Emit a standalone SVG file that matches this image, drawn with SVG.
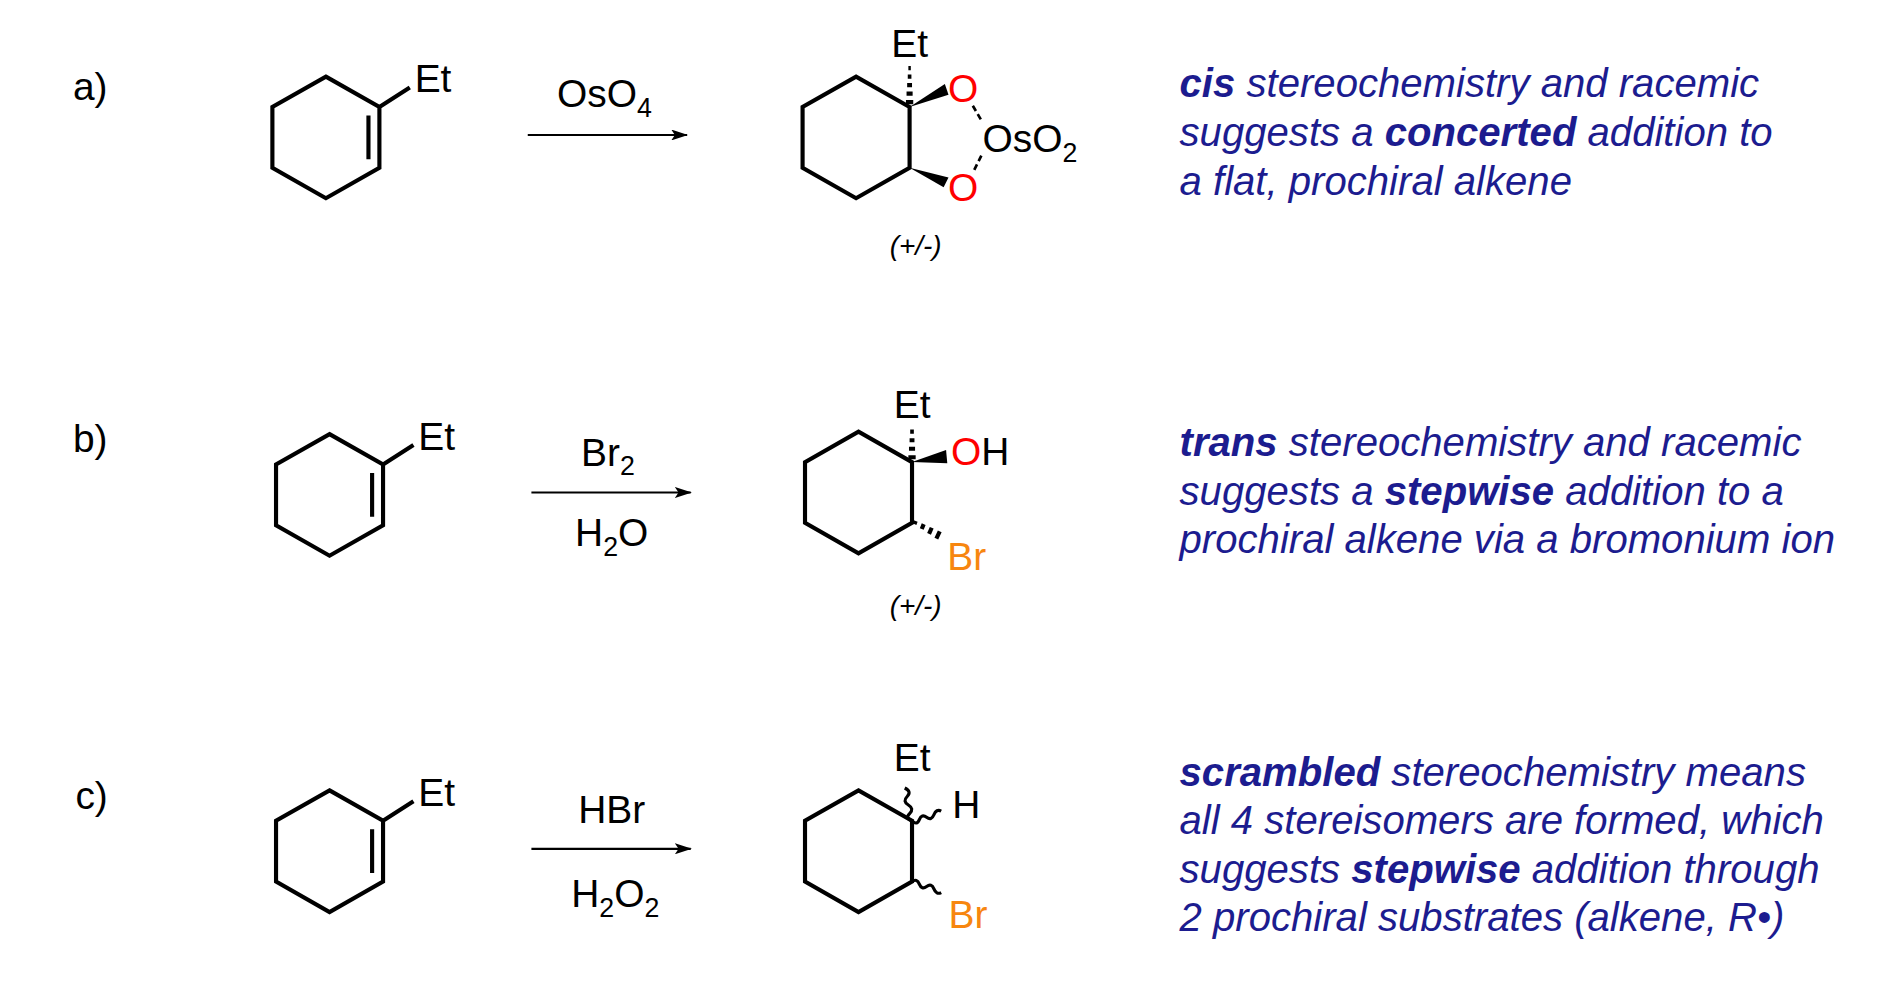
<svg xmlns="http://www.w3.org/2000/svg" width="1897" height="1008" viewBox="0 0 1897 1008">
<defs>
<style>
.b{fill:none;stroke:#000;stroke-width:3.4;stroke-linejoin:miter;stroke-linecap:butt}
.h{stroke:#000;stroke-width:3.4}
.t{font-family:"Liberation Sans",Arial,sans-serif;font-size:32px;fill:#000}
.s{font-size:22px}
.r{fill:#f00}
.o{fill:#f7860f}
.d{font-family:"Liberation Sans",Arial,sans-serif;font-size:33px;font-style:italic;fill:#1c1c8f}
.d tspan.k{font-weight:bold}
.pm{font-family:"Liberation Sans",Arial,sans-serif;font-size:23px;font-style:italic;fill:#000}
.w{fill:none;stroke:#000;stroke-width:2.6}
</style>
<marker id="ah" markerWidth="14" markerHeight="9" refX="13" refY="4.5" orient="auto" markerUnits="userSpaceOnUse">
<path d="M0,0 L14,4.5 L0,9 L3,4.5 Z" fill="#000"/>
</marker>
</defs>
<rect width="1897" height="1008" fill="#fff"/>
<g transform="scale(1.21603)">
<g id="labels">
<text class="t" x="60" y="82">a)</text>
<text class="t" x="60" y="372">b)</text>
<text class="t" x="62" y="665">c)</text>
</g>
<g id="connectors">
<line x1="434" y1="111" x2="565" y2="111" stroke="#000" stroke-width="1.8" marker-end="url(#ah)"/>
<line x1="437" y1="405" x2="568" y2="405" stroke="#000" stroke-width="1.8" marker-end="url(#ah)"/>
<line x1="437" y1="698" x2="568" y2="698" stroke="#000" stroke-width="1.8" marker-end="url(#ah)"/>
<text class="t" x="497" y="88" text-anchor="middle">OsO<tspan class="s" dy="8">4</tspan></text>
<text class="t" x="500" y="383" text-anchor="middle">Br<tspan class="s" dy="8">2</tspan></text>
<text class="t" x="503" y="449" text-anchor="middle">H<tspan class="s" dy="8">2</tspan><tspan dy="-8">O</tspan></text>
<text class="t" x="503" y="677" text-anchor="middle">HBr</text>
<text class="t" x="506" y="746" text-anchor="middle">H<tspan class="s" dy="8">2</tspan><tspan dy="-8">O</tspan><tspan class="s" dy="8">2</tspan></text>
</g>
<g id="sm-a">
<path class="b" d="M268,63 L312,88 L312,138 L268,163 L224,138 L224,88 Z M303,95 L303,131 M312,88 L337,72"/>
<text class="t" x="341" y="76">Et</text>
</g>
<g id="sm-b">
<path class="b" d="M271,357 L315,382 L315,432 L271,457 L227,432 L227,382 Z M306,389 L306,425 M315,382 L340,366"/>
<text class="t" x="344" y="370">Et</text>
</g>
<g id="sm-c">
<path class="b" d="M271,650 L315,675 L315,725 L271,750 L227,725 L227,675 Z M306,682 L306,718 M315,675 L340,659"/>
<text class="t" x="344" y="663">Et</text>
</g>
<g id="prod-a">
<path class="b" d="M748,88 L704,63 L660,88 L660,138 L704,163 L748,138 Z"/>
<path class="h" d="M745,84h6M745.5,77h5M746,70h4M746.5,63h3M747,56h2"/>
<polygon points="748,88 777,69 780,78"/>
<polygon points="748,138 780,146 776,154"/>
<line x1="800" y1="87" x2="807" y2="99" stroke="#000" stroke-width="2.2" stroke-dasharray="5,3"/>
<line x1="807" y1="128" x2="801" y2="140" stroke="#000" stroke-width="2.2" stroke-dasharray="5,3"/>
<text class="t r" x="792" y="84" text-anchor="middle">O</text>
<text class="t r" x="792" y="165" text-anchor="middle">O</text>
<text class="t" x="808" y="125">OsO<tspan class="s" dy="8">2</tspan></text>
<text class="t" x="733" y="47">Et</text>
<text class="pm" x="753" y="210" text-anchor="middle">(+/-)</text>
</g>
<g id="prod-b">
<path class="b" d="M750,380 L706,355 L662,380 L662,430 L706,455 L750,430 Z"/>
<path class="h" d="M747,376h6M747.5,369h5M748,362h4M748.5,355h3"/>
<polygon points="750,380 778,370 779,381"/>
<path class="h" d="M752,431l1,-2.5M758,435l1.6,-4M764,439l2.2,-5M770,443l2.8,-6"/>
<text class="t r" x="782" y="382">O<tspan fill="#000">H</tspan></text>
<text class="t o" x="779" y="469">Br</text>
<text class="t" x="735" y="344">Et</text>
<text class="pm" x="753" y="506" text-anchor="middle">(+/-)</text>
</g>
<g id="prod-c">
<path class="b" d="M750,675 L706,650 L662,675 L662,725 L706,750 L750,725 Z"/>
<path class="w" d="M750,675 q-6,-2 -2,-6 q4,-4 -1,-7 q-5,-3 -1,-7 q4,-4 -2,-7"/>
<path class="w" d="M750,675 q4,4 6,-1 q2,-5 6,-2 q4,3 6,-2 q2,-5 6,-3"/>
<path class="w" d="M750,725 q4,-3 6,2 q2,5 6,2 q4,-3 6,2 q2,5 6,3"/>
<text class="t" x="783" y="673">H</text>
<text class="t o" x="780" y="763">Br</text>
<text class="t" x="735" y="634">Et</text>
</g>
<g id="note-a">
<text class="d" x="970" y="80"><tspan class="k">cis</tspan> stereochemistry and racemic</text>
<text class="d" x="970" y="120">suggests a <tspan class="k">concerted</tspan> addition to</text>
<text class="d" x="970" y="160">a flat, prochiral alkene</text>
</g>
<g id="note-b">
<text class="d" x="970" y="375"><tspan class="k">trans</tspan> stereochemistry and racemic</text>
<text class="d" x="970" y="415">suggests a <tspan class="k">stepwise</tspan> addition to a</text>
<text class="d" x="970" y="455">prochiral alkene via a bromonium ion</text>
</g>
<g id="note-c">
<text class="d" x="970" y="646"><tspan class="k">scrambled</tspan> stereochemistry means</text>
<text class="d" x="970" y="686">all 4 stereisomers are formed, which</text>
<text class="d" x="970" y="726">suggests <tspan class="k">stepwise</tspan> addition through</text>
<text class="d" x="970" y="766">2 prochiral substrates (alkene, R•)</text>
</g>
</g>
</svg>
